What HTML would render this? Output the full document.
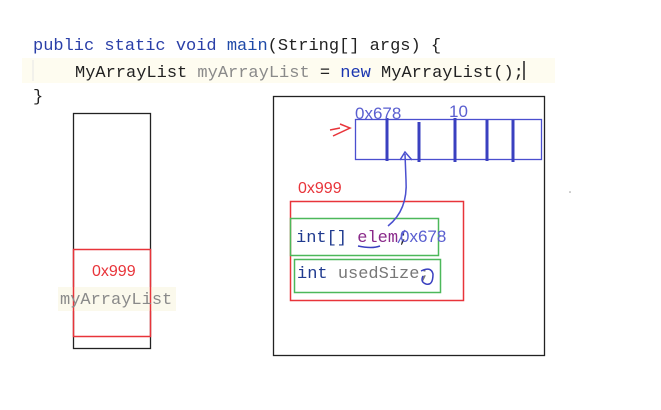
<!DOCTYPE html>
<html><head><style>
body{margin:0;background:#fff;}
svg{display:block;}
.m{font-family:"Liberation Mono",monospace;font-size:17px;}
</style></head><body>
<svg width="661" height="410" viewBox="0 0 661 410">
<rect x="22" y="58" width="533" height="25" fill="#fefcf0"/>
<line x1="33" y1="60" x2="33" y2="81" stroke="#e6e6e6"/>
<text class="m" x="33" y="50"><tspan fill="#2a3fa8">public static void </tspan><tspan fill="#1f4aa8">main</tspan><tspan fill="#222">(String[] args) {</tspan></text>
<text class="m" x="75" y="77"><tspan fill="#222">MyArrayList </tspan><tspan fill="#8a8a8a">myArrayList</tspan><tspan fill="#222"> = </tspan><tspan fill="#1a35b0">new</tspan><tspan fill="#222"> MyArrayList();</tspan></text>
<line x1="524" y1="61" x2="524" y2="80" stroke="#222" stroke-width="1.5"/>
<text class="m" x="33" y="101" fill="#222">}</text>
<!-- stack -->
<rect x="73.5" y="113.5" width="77" height="235" fill="none" stroke="#222" stroke-width="1.3"/>
<rect x="58" y="287" width="118" height="24" fill="#fbf9ec"/>
<rect x="73.5" y="249.5" width="77" height="87" fill="none" stroke="#e8343a" stroke-width="1.5"/>
<text x="92" y="276" font-family="Liberation Sans,sans-serif" font-size="16" fill="#e8343a">0x999</text>
<text class="m" x="60" y="304" fill="#8a8a8a" font-size="16">myArrayList</text>
<!-- heap -->
<rect x="273.5" y="96.5" width="271" height="259" fill="none" stroke="#222" stroke-width="1.3"/>
<rect x="355.5" y="119.5" width="186" height="40" fill="none" stroke="#4a4fcf" stroke-width="1.3"/>
<g stroke="#3a40c0" stroke-width="3">
<line x1="387" y1="118" x2="387" y2="161"/><line x1="419" y1="122" x2="419" y2="162"/>
<line x1="455" y1="118" x2="455" y2="162"/><line x1="487" y1="120" x2="487" y2="161"/>
<line x1="513" y1="120" x2="513" y2="162"/></g>
<text x="355" y="119" font-family="Liberation Sans,sans-serif" font-size="17" fill="#5a5fd0">0x678</text>
<text x="449" y="117" font-family="Liberation Sans,sans-serif" font-size="17" fill="#5a5fd0">10</text>
<path d="M330 130 L340 128 M333 136 L350 128 L340 124" fill="none" stroke="#e8343a" stroke-width="1.5"/>
<text x="298" y="193" font-family="Liberation Sans,sans-serif" font-size="16" fill="#e8343a">0x999</text>
<rect x="290.5" y="201.5" width="173" height="99" fill="none" stroke="#e8343a" stroke-width="1.5"/>
<rect x="290.5" y="218.5" width="148" height="37" fill="none" stroke="#4cb85a" stroke-width="1.5"/>
<rect x="294.5" y="259.5" width="146" height="33" fill="none" stroke="#4cb85a" stroke-width="1.5"/>
<text class="m" x="296" y="242" font-size="15"><tspan fill="#1f3a8f">int[] </tspan><tspan fill="#8a2a8a">elem</tspan><tspan fill="#222">;</tspan></text>
<text x="400" y="242" font-family="Liberation Sans,sans-serif" font-size="17" fill="#5a5fd0">0x678</text>
<line x1="398" y1="243" x2="405" y2="230" stroke="#5a5fd0" stroke-width="1.3"/>
<text class="m" x="297" y="278" font-size="15"><tspan fill="#1f3a8f">int </tspan><tspan fill="#777">usedSize;</tspan></text>
<path d="M421 271 Q431 266 433 274 Q433 286 426 284 Q420 282 423 276" fill="none" stroke="#3a40c0" stroke-width="1.5"/>
<path d="M358 246 Q372 249 380 246" fill="none" stroke="#3a40c0" stroke-width="1.5"/>
<path d="M388 226 Q408 210 406 180 L405 154 M400 160 L405 152 L412 160" fill="none" stroke="#4a4fcf" stroke-width="1.5"/>
<circle cx="570" cy="192" r="0.8" fill="#999"/>
</svg>
</body></html>
